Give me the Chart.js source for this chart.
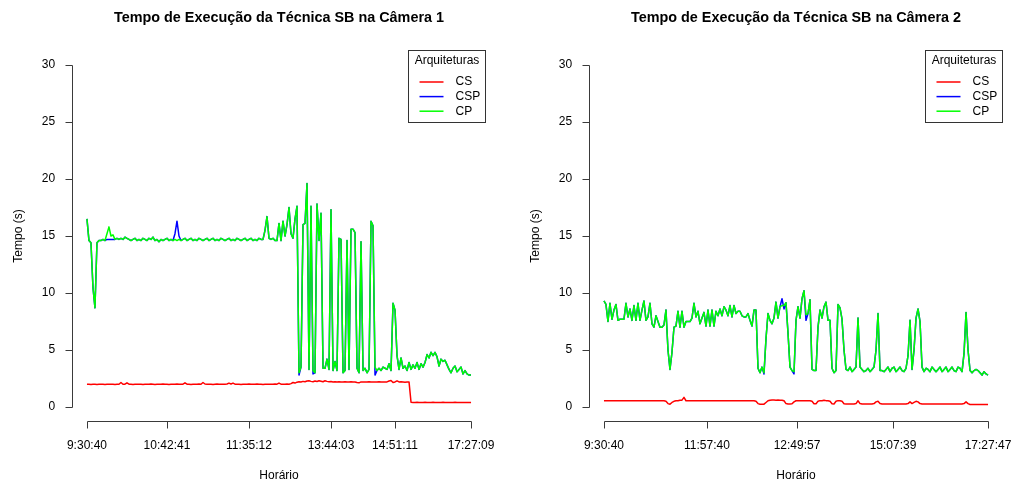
<!DOCTYPE html>
<html><head><meta charset="utf-8">
<script src="https://cdn.jsdelivr.net/npm/chart.js@4.4.1/dist/chart.umd.min.js"></script>
<style>
html,body{margin:0;padding:0;background:#fff;overflow:hidden;width:1014px;height:481px}
canvas{position:absolute;top:0}
</style></head>
<body>
<canvas id="c1" width="507" height="481" style="left:0"></canvas>
<canvas id="c2" width="497" height="481" style="left:517px"></canvas>
<script>
const seriesNames = ['CS', 'CSP', 'CP'];
const seriesColors = ['#FF0000', '#0000FF', '#00FF00'];
const yTicks = [0, 5, 10, 15, 20, 25, 30];

const title1 = 'Tempo de Execução da Técnica SB na Câmera 1';
const tickIdx1 = [0, 40, 81, 122, 154, 192];
const tickLbl1 = ['9:30:40', '10:42:41', '11:35:12', '13:44:03', '14:51:11', '17:27:09'];
const cs1 = [
2.0,2.0,1.98,2.0,2.0,1.98,2.0,2.0,2.0,1.98,
2.0,2.0,2.0,2.0,1.98,2.0,2.0,2.15,2.0,2.0,
2.12,2.0,2.0,1.98,2.0,2.0,2.0,2.0,1.98,2.0,
2.0,2.0,2.02,2.0,1.98,2.0,2.0,2.0,2.02,2.0,
2.0,1.98,2.0,2.0,2.0,2.02,2.0,2.0,2.0,2.12,
2.0,2.0,1.98,2.0,2.0,2.0,2.02,2.0,2.15,2.02,
2.0,2.0,2.0,1.98,2.0,2.02,2.0,2.0,2.0,2.0,
2.02,2.1,2.02,2.1,2.0,2.0,2.0,1.98,2.0,2.0,
2.0,2.02,2.0,2.0,2.0,2.02,2.0,2.0,1.98,2.0,
2.0,2.0,2.0,2.0,2.02,2.0,2.1,2.0,2.0,2.0,
2.02,2.0,2.05,2.15,2.1,2.18,2.22,2.2,2.25,2.22,
2.28,2.3,2.25,2.22,2.28,2.24,2.3,2.26,2.22,2.3,
2.25,2.22,2.24,2.2,2.22,2.2,2.22,2.2,2.2,2.22,
2.2,2.2,2.22,2.2,2.2,2.15,2.12,2.2,2.2,2.2,
2.2,2.22,2.2,2.2,2.2,2.2,2.22,2.2,2.2,2.2,
2.2,2.28,2.32,2.15,2.2,2.3,2.2,2.22,2.2,2.18,
2.2,2.2,0.42,0.4,0.4,0.41,0.4,0.4,0.4,0.41,
0.4,0.4,0.4,0.41,0.4,0.4,0.4,0.4,0.41,0.4,
0.4,0.4,0.4,0.4,0.41,0.4,0.4,0.4,0.4,0.4,
0.4,0.4,0.4];
const csp1 = [
16.5,14.6,14.4,10.5,8.7,14.4,14.6,14.6,14.7,14.6,
14.7,14.7,14.7,14.7,14.7,14.8,14.7,14.8,14.7,14.9,
14.8,14.7,14.6,14.7,14.8,14.6,14.7,14.6,14.8,14.7,
14.6,14.8,14.7,14.9,14.6,14.7,14.5,14.7,14.6,14.7,
14.8,14.6,14.7,14.6,15.2,16.3,15.0,14.6,14.7,14.8,
14.6,14.7,14.8,14.6,14.7,14.6,14.8,14.7,14.6,14.7,
14.8,14.6,14.7,14.8,14.6,14.7,14.6,14.8,14.7,14.6,
14.7,14.8,14.6,14.7,14.6,14.8,14.7,14.6,14.7,14.8,
14.6,14.7,14.8,14.6,14.7,14.6,14.8,14.7,14.7,15.5,
16.7,14.8,14.7,14.8,14.6,14.6,16.1,14.6,16.3,15.0,
16.0,17.5,15.2,14.8,16.5,17.6,2.8,3.5,16.0,16.1,
19.6,3.3,17.6,2.9,3.0,17.8,14.6,17.0,3.4,3.4,
4.2,3.3,17.3,3.2,4.0,3.2,14.8,14.7,3.0,3.2,
14.6,3.3,15.6,15.6,15.3,3.4,3.0,14.5,3.2,3.4,
3.0,3.3,16.3,15.9,2.8,3.2,3.4,3.2,3.5,3.4,
3.3,3.8,3.2,9.1,8.5,4.5,3.3,4.3,3.4,3.6,
3.2,3.9,3.3,3.7,3.4,3.9,3.3,3.8,3.5,3.9,
4.6,4.3,4.8,4.5,4.8,4.4,3.6,4.2,4.0,4.1,
3.7,3.3,3.0,3.4,3.6,3.1,3.3,3.5,2.9,3.2,
2.9,2.8,2.8];
const cp1 = [
16.5,14.6,14.4,10.5,8.7,14.4,14.6,14.6,14.7,14.6,
15.2,15.8,15.0,15.1,14.7,14.8,14.7,14.8,14.7,14.9,
14.8,14.7,14.6,14.7,14.8,14.6,14.7,14.6,14.8,14.7,
14.6,14.8,14.7,14.9,14.6,14.7,14.5,14.7,14.6,14.7,
14.8,14.6,14.7,14.6,14.7,14.6,14.7,14.6,14.7,14.8,
14.6,14.7,14.8,14.6,14.7,14.6,14.8,14.7,14.6,14.7,
14.8,14.6,14.7,14.8,14.6,14.7,14.6,14.8,14.7,14.6,
14.7,14.8,14.6,14.7,14.6,14.8,14.7,14.6,14.7,14.8,
14.6,14.7,14.8,14.6,14.7,14.6,14.8,14.7,14.7,15.5,
16.7,14.8,14.7,14.8,14.6,14.6,16.1,14.6,16.3,15.0,
16.0,17.5,15.2,14.8,16.5,17.6,3.0,3.5,16.0,16.1,
19.6,3.3,17.6,3.2,3.0,17.8,14.6,17.0,3.4,3.4,
4.2,3.3,17.3,3.2,4.0,3.2,14.8,14.7,3.0,3.2,
14.6,3.3,15.6,15.6,15.3,3.4,3.0,14.5,3.2,3.4,
3.0,3.3,16.3,15.9,3.5,3.2,3.4,3.2,3.5,3.4,
3.3,3.8,3.2,9.1,8.5,4.5,3.3,4.3,3.4,3.6,
3.2,3.9,3.3,3.7,3.4,3.9,3.3,3.8,3.5,3.9,
4.6,4.3,4.8,4.5,4.8,4.4,3.6,4.2,4.0,4.1,
3.7,3.3,3.0,3.4,3.6,3.1,3.3,3.5,2.9,3.2,
2.9,2.8,2.8];

const title2 = 'Tempo de Execução da Técnica SB na Câmera 2';
const tickIdx2 = [0, 51.5, 96.5, 144.5, 192];
const tickLbl2 = ['9:30:40', '11:57:40', '12:49:57', '15:07:39', '17:27:47'];
const cs2 = [
0.55,0.55,0.56,0.55,0.54,0.55,0.55,0.56,0.55,0.55,
0.55,0.54,0.55,0.55,0.55,0.56,0.55,0.55,0.54,0.55,
0.55,0.55,0.56,0.55,0.55,0.55,0.54,0.55,0.55,0.55,
0.55,0.5,0.3,0.25,0.4,0.5,0.55,0.55,0.6,0.6,
0.85,0.55,0.55,0.55,0.56,0.55,0.55,0.54,0.55,0.55,
0.55,0.56,0.55,0.55,0.55,0.54,0.55,0.55,0.56,0.55,
0.55,0.55,0.55,0.54,0.55,0.55,0.56,0.55,0.55,0.55,
0.55,0.54,0.55,0.55,0.55,0.55,0.5,0.3,0.25,0.25,
0.25,0.4,0.55,0.6,0.62,0.62,0.6,0.62,0.6,0.6,
0.55,0.3,0.27,0.27,0.28,0.45,0.55,0.56,0.55,0.56,
0.55,0.55,0.56,0.55,0.5,0.28,0.28,0.5,0.56,0.55,
0.6,0.56,0.55,0.5,0.28,0.27,0.5,0.56,0.55,0.5,
0.28,0.27,0.27,0.27,0.27,0.27,0.3,0.55,0.3,0.27,
0.27,0.27,0.27,0.27,0.27,0.3,0.45,0.5,0.3,0.27,
0.27,0.27,0.27,0.27,0.27,0.27,0.27,0.27,0.27,0.27,
0.27,0.27,0.3,0.45,0.3,0.4,0.5,0.45,0.3,0.27,
0.27,0.27,0.27,0.27,0.27,0.27,0.27,0.27,0.27,0.27,
0.27,0.27,0.27,0.27,0.27,0.27,0.27,0.27,0.27,0.27,
0.3,0.45,0.3,0.22,0.22,0.22,0.22,0.22,0.22,0.22,
0.22,0.22,0.22];
const csp2 = [
9.3,9.0,7.5,9.1,7.7,8.5,9.0,7.6,7.7,7.7,
7.7,9.1,7.9,8.6,7.6,8.9,7.6,9.1,7.6,8.5,
9.3,7.6,7.9,9.1,7.3,7.0,8.0,7.5,7.0,7.0,
7.2,8.5,5.0,3.3,4.8,7.0,7.1,8.4,7.0,8.4,
7.0,7.5,7.5,7.5,7.8,9.1,7.9,8.4,7.3,7.8,
8.3,7.1,8.5,7.1,8.5,7.1,8.4,8.0,8.6,8.0,
8.8,8.5,8.0,8.9,7.9,8.9,8.2,8.4,8.4,8.0,
7.9,7.9,8.2,7.6,7.1,8.5,8.5,3.4,3.0,3.5,
2.9,6.0,8.2,7.6,7.3,7.8,9.2,7.8,8.8,9.5,
8.6,9.15,6.5,3.5,3.2,2.9,7.6,8.8,7.8,9.5,
10.2,7.6,8.2,9.4,3.3,3.2,3.2,7.0,8.5,7.8,
8.8,9.2,7.6,7.6,3.4,3.0,3.2,9.0,8.7,7.7,
5.0,3.3,3.2,3.5,3.1,3.3,3.5,7.8,3.5,3.3,
3.1,3.2,3.4,3.1,3.3,3.5,5.0,8.2,3.2,3.2,
3.1,3.3,3.5,3.1,3.4,3.5,3.1,3.3,3.5,3.2,
3.1,3.4,4.5,7.6,3.3,5.0,7.8,8.6,7.5,3.5,
3.1,3.4,3.3,3.1,3.5,3.3,3.1,3.3,3.5,3.1,
3.3,3.5,3.1,3.3,3.5,3.2,3.1,3.5,3.4,3.1,
4.7,8.3,5.0,3.2,3.0,3.2,3.3,3.2,3.0,2.8,
3.1,2.9,2.8];
const cp2 = [
9.3,9.0,7.5,9.1,7.7,8.5,9.0,7.6,7.7,7.7,
7.7,9.1,7.9,8.6,7.6,8.9,7.6,9.1,7.6,8.5,
9.3,7.6,7.9,9.1,7.3,7.0,8.0,7.5,7.0,7.0,
7.2,8.5,5.0,3.3,4.8,7.0,7.1,8.4,7.0,8.4,
7.0,7.5,7.5,7.5,7.8,9.1,7.9,8.4,7.3,7.8,
8.3,7.1,8.5,7.1,8.5,7.1,8.4,8.0,8.6,8.0,
8.8,8.5,8.0,8.9,7.9,8.9,8.2,8.4,8.4,8.0,
7.9,7.9,8.2,7.6,7.1,8.5,8.5,3.4,3.0,3.5,
3.0,6.0,8.2,7.6,7.3,7.8,9.2,7.8,8.8,8.9,
8.9,9.15,6.5,3.5,3.2,3.1,7.6,8.8,7.8,9.5,
10.2,8.1,8.2,9.4,3.3,3.2,3.2,7.0,8.5,7.8,
8.8,9.2,7.6,7.6,3.4,3.0,3.2,9.0,8.7,7.7,
5.0,3.3,3.2,3.5,3.1,3.3,3.5,7.8,3.5,3.3,
3.1,3.2,3.4,3.1,3.3,3.5,5.0,8.2,3.2,3.2,
3.1,3.3,3.5,3.1,3.4,3.5,3.1,3.3,3.5,3.2,
3.1,3.4,4.5,7.6,3.3,5.0,7.8,8.6,7.5,3.5,
3.1,3.4,3.3,3.1,3.5,3.3,3.1,3.3,3.5,3.1,
3.3,3.5,3.1,3.3,3.5,3.2,3.1,3.5,3.4,3.1,
4.7,8.3,5.0,3.2,3.0,3.2,3.3,3.2,3.0,2.8,
3.1,2.9,2.8];

const FONT = '"Liberation Sans", Arial, Helvetica, sans-serif';
const AXIS_COLOR = '#3a3a3a';

const rPlot = {
  id: 'rPlot',
  afterDraw(chart, args, opts) {
    const {ctx, chartArea: a, scales: {x, y}} = chart;
    ctx.save();
    ctx.strokeStyle = AXIS_COLOR;
    ctx.lineWidth = 1;
    const xL = Math.round(a.left) + 0.5;
    const yB = Math.round(a.bottom) + 0.5;
    ctx.beginPath();
    ctx.moveTo(xL, Math.round(y.getPixelForValue(yTicks[0])) + 0.5);
    ctx.lineTo(xL, Math.round(y.getPixelForValue(yTicks[yTicks.length - 1])) + 0.5);
    yTicks.forEach(v => {
      const py = Math.round(y.getPixelForValue(v)) + 0.5;
      ctx.moveTo(xL - 7, py); ctx.lineTo(xL, py);
    });
    const ti = opts.ticks;
    ctx.moveTo(Math.round(x.getPixelForValue(ti[0])) + 0.5, yB);
    ctx.lineTo(Math.round(x.getPixelForValue(ti[ti.length - 1])) + 0.5, yB);
    ti.forEach(v => {
      const px = Math.round(x.getPixelForValue(v)) + 0.5;
      ctx.moveTo(px, yB); ctx.lineTo(px, yB + 7);
    });
    ctx.stroke();

    ctx.fillStyle = '#000';
    ctx.textAlign = 'center';
    ctx.textBaseline = 'middle';
    ctx.font = 'bold 14.4px ' + FONT;
    ctx.fillText(opts.title, (a.left + a.right) / 2, 18.5);
    ctx.font = '12px ' + FONT;
    ctx.fillText('Horário', (a.left + a.right) / 2, 475.5);
    ctx.save();
    ctx.translate(19, (a.top + a.bottom) / 2);
    ctx.rotate(-Math.PI / 2);
    ctx.fillText('Tempo (s)', 0, 0);
    ctx.restore();

    // legend (top right, R style)
    const bw = 77, bh = 72;
    const bx = Math.round(a.right - 1 - bw) + 0.5, by = Math.round(a.top - 1) + 0.5;
    ctx.strokeStyle = '#333';
    ctx.strokeRect(bx, by, bw, bh);
    ctx.fillText('Arquiteturas', bx + bw / 2, by + 10.5);
    seriesNames.forEach((n, k) => {
      const ly = by + 31.5 + k * 14.6;
      ctx.strokeStyle = seriesColors[k];
      ctx.lineWidth = 1.5;
      ctx.beginPath();
      ctx.moveTo(bx + 11, ly); ctx.lineTo(bx + 35, ly);
      ctx.stroke();
      ctx.textAlign = 'left';
      ctx.fillText(n, bx + 47, ly);
    });
    ctx.restore();
  }
};

function makeChart(id, title, tickIdx, tickLbl, cs, csp, cp) {
  const canvas = document.getElementById(id);
  const W = canvas.width;
  const idx = cs.map((_, i) => i);
  const xr = cp.length - 1;
  return new Chart(canvas, {
    type: 'line',
    data: {
      labels: idx,
      datasets: [
        {label: seriesNames[0], data: cs, borderColor: seriesColors[0], order: 3},
        {label: seriesNames[1], data: csp, borderColor: seriesColors[1], order: 2},
        {label: seriesNames[2], data: cp, borderColor: seriesColors[2], order: 1}
      ]
    },
    options: {
      responsive: false,
      animation: false,
      events: [],
      elements: {
        point: {radius: 0},
        line: {borderWidth: 1.5, tension: 0, fill: false, borderJoinStyle: 'round'}
      },
      layout: {padding: {top: 51.3, right: W - 486.4, left: 0, bottom: 0}},
      plugins: {
        legend: {display: false},
        title: {display: false},
        tooltip: {enabled: false},
        rPlot: {title: title, ticks: tickIdx}
      },
      scales: {
        x: {
          type: 'linear',
          min: -0.04 * xr,
          max: xr * 1.04,
          grid: {display: false, drawTicks: false},
          border: {display: false},
          afterBuildTicks: s => { s.ticks = tickIdx.map(v => ({value: v})); },
          afterFit: s => { s.height = 481 - 420.7; s.paddingLeft = 0; s.paddingRight = 0; },
          ticks: {
            autoSkip: false, maxRotation: 0, minRotation: 0, padding: 17.5,
            color: '#000', font: {family: FONT, size: 12},
            callback: (v, i) => tickLbl[i]
          }
        },
        y: {
          type: 'linear',
          min: -1.2,
          max: 31.2,
          grid: {display: false, drawTicks: false},
          border: {display: false},
          afterBuildTicks: s => { s.ticks = yTicks.map(v => ({value: v})); },
          afterFit: s => { s.width = 71.6; s.paddingTop = 0; s.paddingBottom = 0; },
          ticks: {
            padding: 16.5, color: '#000', font: {family: FONT, size: 12},
            callback: v => String(v)
          }
        }
      }
    },
    plugins: [rPlot]
  });
}

makeChart('c1', title1, tickIdx1, tickLbl1, cs1, csp1, cp1);
makeChart('c2', title2, tickIdx2, tickLbl2, cs2, csp2, cp2);
</script>
</body></html>
